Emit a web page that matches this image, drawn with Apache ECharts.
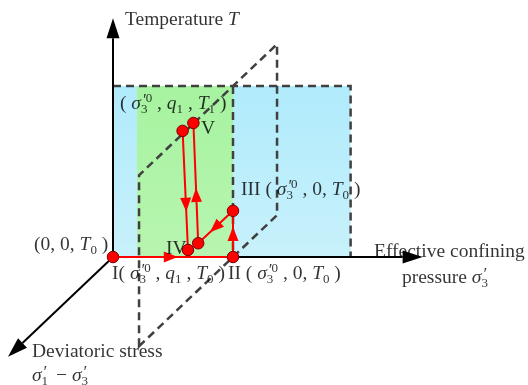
<!DOCTYPE html>
<html>
<head>
<meta charset="utf-8">
<script src="https://cdn.jsdelivr.net/npm/echarts@6/dist/echarts.min.js"></script>
<style>
  html, body { margin: 0; padding: 0; background: #ffffff; }
  #chart { width: 528px; height: 385px; }
</style>
</head>
<body>
<div id="chart"></div>
<script>
// Stress path of a thermo-mechanical triaxial test, sketched in (σ'3, q, T) space.
// Everything is given in drawing units and projected obliquely onto the page:
// the deviatoric-stress axis q runs down to the left.

// Axis extents
const sigmaAxisEnd = 25.8;
const tempAxisEnd = 19.9;
const devAxisEnd = 8.75;

// Reference levels
const sigma30 = 10;          // σ'3^0
const sigmaBandEnd = 19.8;   // right edge of the shaded σ'3 range
const greenBandStart = 2;    // left edge of the green band
const tempBandTop = 14.25;   // top of the shaded temperature range
const planeQ = [-3.67, 7.83];// q extent of the plane σ'3 = σ'3^0

// Path states, in order: I, II, III, IV (two marks), V (two marks)
const pathSigma = [0, 10, 10, 10, 10, 10, 10];
const pathQ     = [0, 0, 0, 2.9, 3.75, 4.2, 3.3];
const pathT     = [0, 0, 3.85, 3.9, 4.15, 14.5, 14.3];

// Path legs (from state, to state) and where each arrow tip sits along its leg
const legFrom = [0, 1, 2, 3, 5];
const legTo   = [1, 2, 3, 6, 4];
const legArrowAt = [0.54, 0.65, 0.66, 0.46, 0.68];

// Text labels and their left/middle anchors
const sig30 = '{i|σ}{s3|3}{pr|′}{sup|0}';
const labelTexts = [
  '{n|Temperature }{i|T}',
  '{n|( }' + sig30 + '{n| , }{i|q}{sub|1}{n| , }{i|T}{sub|1}{n| )}',
  '{n|V}',
  '{n|III ( }' + sig30 + '{n| , 0, }{i|T}{sub|0}{n| )}',
  '{n|(0, 0, }{i|T}{sub|0}{n| )}',
  '{n|IV}',
  '{n|I( }' + sig30 + '{n| , }{i|q}{sub|1}{n| , }{i|T}{sub|0}{n| )}',
  '{n|II ( }' + sig30 + '{n| , 0, }{i|T}{sub|0}{n| )}',
  '{n|Effective confining}',
  '{n|pressure }{i|σ}{s3|3}{pr|′}',
  '{n|Deviatoric stress}',
  '{i|σ}{s3|1}{pr|′}{n|  − }{i|σ}{s3|3}{pr|′}'
];
const labelX = [1.0, 0.58, 7.33, 10.67, -6.58, 4.42, -0.08, 9.58, 21.75, 24.08, -6.75, -6.75];
const labelY = [19.75, 12.75, 10.67, 5.58, 1.0, 0.67, -1.42, -1.42, 0.42, -1.75, -7.92, -9.92];

const qSlope = 0.95;
function proj(s, q, t) { return [s - q, t - qSlope * q]; }

const serif = '"Liberation Serif", "Times New Roman", serif';
const rich = {
  n:   { fontFamily: serif, fontSize: 19.5, color: '#000', lineHeight: 24 },
  i:   { fontFamily: serif, fontSize: 19.5, color: '#000', lineHeight: 24, fontStyle: 'italic' },
  sub: { fontFamily: serif, fontSize: 13, color: '#000', lineHeight: 10, verticalAlign: 'bottom' },
  s3:  { fontFamily: serif, fontSize: 13, color: '#000', lineHeight: 10, verticalAlign: 'bottom', width: 1 },
  pr:  { fontFamily: serif, fontSize: 17, color: '#000', lineHeight: 17, verticalAlign: 'top', fontStyle: 'italic' },
  sup: { fontFamily: serif, fontSize: 13, color: '#000', lineHeight: 13, verticalAlign: 'top' }
};

const bands = [
  { s0: 0, s1: sigmaBandEnd, colors: ['#b0ebfc', '#c8f1fb'] },
  { s0: greenBandStart, s1: sigma30, colors: ['#a6f3a0', '#b8f5b0'] }
];

const outlines = [
  { pts: [[0, 0, tempBandTop], [sigmaBandEnd, 0, tempBandTop], [sigmaBandEnd, 0, 0]], closed: false },
  { pts: [[sigma30, 0, tempBandTop], [sigma30, 0, 0]], closed: false },
  { pts: [[sigma30, planeQ[1], 0], [sigma30, planeQ[1], tempBandTop],
          [sigma30, planeQ[0], tempBandTop], [sigma30, planeQ[0], 0]], closed: true }
];

const axisEnds = [[sigmaAxisEnd, 0, 0], [0, 0, tempAxisEnd], [0, devAxisEnd, 0]];

function arrowHead(tip, from, len, half) {
  const dx = tip[0] - from[0], dy = tip[1] - from[1];
  const d = Math.hypot(dx, dy) || 1;
  const ux = dx / d, uy = dy / d;
  const bx = tip[0] - ux * len, by = tip[1] - uy * len;
  return [[tip[0], tip[1]], [bx - uy * half, by + ux * half], [bx + uy * half, by - ux * half]];
}

const statePts = pathSigma.map((s, i) => proj(s, pathQ[i], pathT[i]));

const chart = echarts.init(document.getElementById('chart'));
chart.setOption({
  animation: false,
  backgroundColor: '#ffffff',
  grid: { left: 5, right: 7, top: 17, bottom: 8 },
  xAxis: { type: 'value', min: -9, max: 34, show: false },
  yAxis: { type: 'value', min: -10, max: 20, show: false },
  series: [
    {
      type: 'custom', name: 'bands', z: 1, clip: false, silent: true,
      data: bands.map((b, i) => [i, 0]),
      renderItem(params, api) {
        const b = bands[params.dataIndex];
        const p0 = api.coord(proj(b.s0, 0, 0));
        const p1 = api.coord(proj(b.s1, 0, tempBandTop));
        return {
          type: 'rect',
          shape: { x: p0[0], y: p1[1], width: p1[0] - p0[0], height: p0[1] - p1[1] },
          style: { fill: new echarts.graphic.LinearGradient(0, 0, 0, 1, [
            { offset: 0, color: b.colors[0] }, { offset: 1, color: b.colors[1] }]) }
        };
      }
    },
    {
      type: 'custom', name: 'outlines', z: 2, clip: false, silent: true,
      data: outlines.map((o, i) => [i, 0]),
      renderItem(params, api) {
        const o = outlines[params.dataIndex];
        const pts = o.pts.map(p => api.coord(proj(p[0], p[1], p[2])));
        return {
          type: o.closed ? 'polygon' : 'polyline',
          shape: { points: pts },
          style: { fill: null, stroke: '#404040', lineWidth: 2.5, lineDash: [8, 5] }
        };
      }
    },
    {
      type: 'custom', name: 'axes', z: 3, clip: false, silent: true,
      data: axisEnds.map((e, i) => [i, 0]),
      renderItem(params, api) {
        const e = axisEnds[params.dataIndex];
        const o = api.coord(proj(0, 0, 0));
        const tip = api.coord(proj(e[0], e[1], e[2]));
        const head = arrowHead(tip, o, 20, 6.5);
        const base = [(head[1][0] + head[2][0]) / 2, (head[1][1] + head[2][1]) / 2];
        return {
          type: 'group',
          children: [
            { type: 'line', shape: { x1: o[0], y1: o[1], x2: base[0], y2: base[1] },
              style: { stroke: '#000', lineWidth: 2 } },
            { type: 'polygon', shape: { points: head }, style: { fill: '#000' } }
          ]
        };
      }
    },
    {
      type: 'custom', name: 'legs', z: 4, clip: false, silent: true,
      data: legFrom.map((f, i) => [i, 0]),
      renderItem(params, api) {
        const k = params.dataIndex;
        const a = api.coord(statePts[legFrom[k]]);
        const b = api.coord(statePts[legTo[k]]);
        const t = legArrowAt[k];
        const tip = [a[0] + (b[0] - a[0]) * t, a[1] + (b[1] - a[1]) * t];
        return {
          type: 'group',
          children: [
            { type: 'line', shape: { x1: a[0], y1: a[1], x2: b[0], y2: b[1] },
              style: { stroke: '#ff0000', lineWidth: 2 } },
            { type: 'polygon', shape: { points: arrowHead(tip, a, 14, 5.5) },
              style: { fill: '#ff0000' } }
          ]
        };
      }
    },
    {
      type: 'scatter', name: 'states', z: 5, silent: true,
      symbol: 'circle', symbolSize: 11.5,
      itemStyle: { color: '#ff0000', borderColor: '#7a0000', borderWidth: 1, opacity: 1 },
      data: statePts
    },
    {
      type: 'scatter', name: 'labels', z: 6, silent: true,
      symbolSize: 0.1, itemStyle: { color: 'rgba(0,0,0,0)' },
      data: labelTexts.map((txt, i) => ({
        value: [labelX[i], labelY[i]],
        label: {
          show: true, position: 'inside', align: 'left', verticalAlign: 'middle',
          formatter: txt, rich: rich
        }
      }))
    }
  ]
});
</script>
</body>
</html>
